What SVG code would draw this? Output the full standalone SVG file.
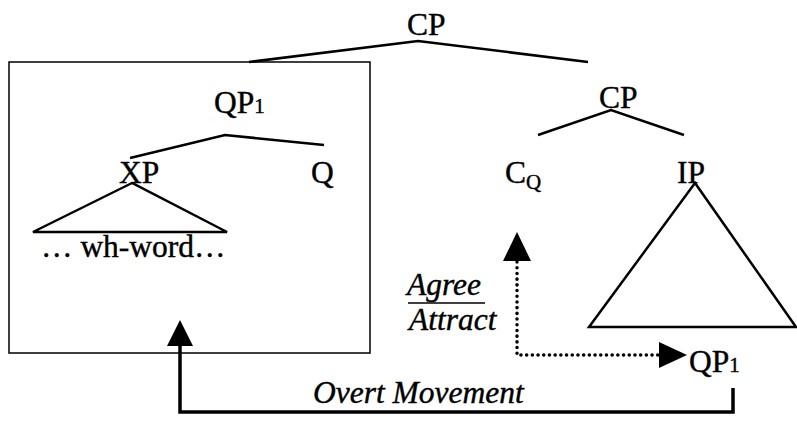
<svg xmlns="http://www.w3.org/2000/svg" width="797" height="423" viewBox="0 0 797 423">
<style>
.t{font-family:"Liberation Serif","Times New Roman",serif;font-size:31.5px;fill:#000;stroke:#000;stroke-width:0.4}
.i{font-style:italic}
.s{font-size:21px}
.br{fill:none;stroke:#000;stroke-width:2.5}
.box{fill:none;stroke:#000;stroke-width:1.5}
.dot{fill:none;stroke:#000;stroke-width:3.5;stroke-linecap:round;stroke-dasharray:0.1 5.6}
</style>
<rect width="797" height="423" fill="#fff"/>
<g id="box"><rect class="box" x="9" y="62" width="361" height="291"/></g>
<g id="cp-top"><text class="t" x="407" y="35">CP</text><polyline class="br" points="249,62 418,41 588,62"/></g>
<g id="qp1-top"><text class="t" x="214" y="113">QP<tspan class="s">1</tspan></text><polyline class="br" points="130,158 225,135 324,145"/></g>
<g id="xp"><text class="t" x="119" y="183">XP</text><polygon class="br" points="132,183 33,232 227,232"/></g>
<g id="q"><text class="t" x="311" y="183">Q</text></g>
<g id="wh"><text class="t" x="41" y="257">… wh-word…</text></g>
<g id="cp-inner"><text class="t" x="599" y="108">CP</text><polyline class="br" points="538,135 611,110 684,135"/></g>
<g id="cq"><text class="t" x="505" y="183">C<tspan class="s" dy="6">Q</tspan></text></g>
<g id="ip"><text class="t" x="677" y="183">IP</text><polygon class="br" points="695,183 589,327 796,327"/></g>
<g id="qp1-low"><text class="t" x="689" y="372">QP<tspan class="s">1</tspan></text></g>
<g id="labels">
<text class="t i" x="407" y="295">Agree</text>
<line x1="408" y1="303" x2="485" y2="303" stroke="#000" stroke-width="1.5"/>
<text class="t i" x="409" y="330">Attract</text>
<text class="t i" x="313" y="403">Overt Movement</text>
</g>
<g id="connectors">
<polyline points="733,388 733,412 180,412 180,344" fill="none" stroke="#000" stroke-width="3.5"/>
<polygon points="180,320 167,346 193,346" fill="#000"/>
<polyline class="dot" points="517,262 517,355 660,355"/>
<polygon points="517,232 503,261 531,261" fill="#000"/>
<polygon points="687,355 659,342 659,368" fill="#000"/>
</g>
</svg>
